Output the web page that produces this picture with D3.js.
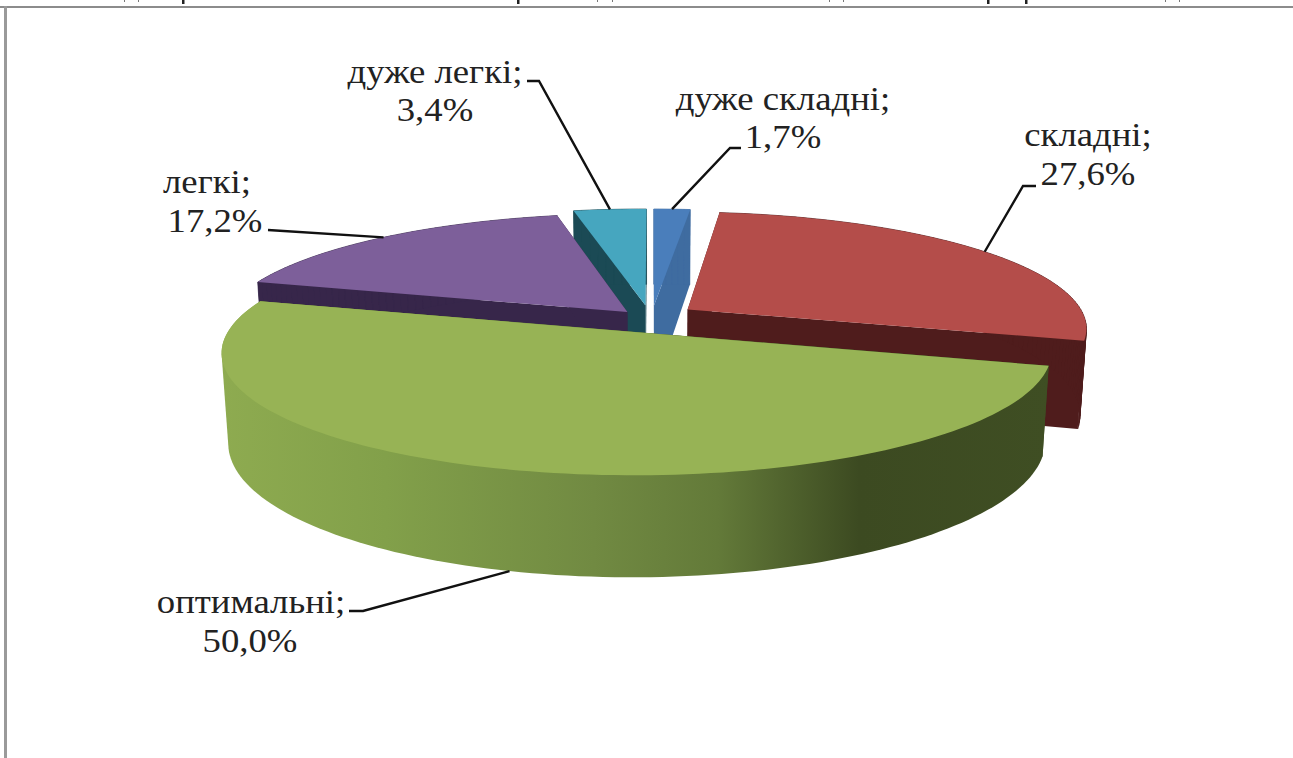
<!DOCTYPE html>
<html><head><meta charset="utf-8">
<script src="https://cdn.jsdelivr.net/npm/d3@7"></script>
<style>html,body{margin:0;padding:0;background:#fff;overflow:hidden}svg{display:block}
text{font-family:"Liberation Serif","Times New Roman",serif;font-size:34px;fill:#222}</style>
</head><body><svg id="c" width="1293" height="758"></svg>
<script>
const categories = ["дуже складні","складні","оптимальні","легкі","дуже легкі"];
const values = [1.7,27.6,50.0,17.2,3.4];
const valueLabels = ["1,7%","27,6%","50,0%","17,2%","3,4%"];
const topColors = ["#4a7ebb","#b44d4a","#97b355","#7d5f9a","#46a6bf"];
const wallColors = ["#3f6ca0","#4f1c1c","#3c4a21","#37264a","#1b4a55"];
const explodeU = [0.07,0.107,0.11,0.092,0.165];
const explodeV = [0.12,0.15,0.12,0.085,0.12];
const paintOrder = [4,0,1,3,2];
const labelLines = [
 {i:0,a1:[783,110],a2:[783,148],leader:[[730,148],[741,148]]},
 {i:1,a1:[1088,146],a2:[1088,185],leader:[[1023,186],[1036,186]]},
 {i:2,a1:[251,613],a2:[250,652],leader:[[363,611],[349,611]],bottom:true},
 {i:3,a1:[207,193],a2:[215,232],leader:[[268,230]]},
 {i:4,a1:[435,83],a2:[435,121],leader:[[539,81],[527,81]]}
];
const stems = [183,518,988,1026];
const feet = [124,138,597,612,829,843,1165,1179];

const svg = d3.select("#c");
const cam = {cx:652.5,cy:319,R:402,a:115.5,k:0.157,m:0.008,H:88,q:0.015,textStretch:1.08};
const pie = d3.pie().sort(null).value(d=>d);
const arcs = pie(values);

function project(u,v,bottom){
  const w = 1 + cam.k*v + cam.m*u + (bottom?cam.q:0);
  return [cam.cx + cam.R*u/w, cam.cy - (cam.a*v - (bottom?cam.H:0))/w];
}
function slicePoint(d,r,ang,bottom){
  const mid=(d.startAngle+d.endAngle)/2;
  const u=explodeU[d.index]*Math.sin(mid)+r*Math.sin(ang);
  const v=explodeV[d.index]*Math.cos(mid)+r*Math.cos(ang);
  return project(u,v,bottom);
}
const line=d3.line();
function arcPts(d,bottom){
  const n=Math.max(6,Math.ceil((d.endAngle-d.startAngle)*40));
  return d3.range(n+1).map(j=>slicePoint(d,1,d.startAngle+(d.endAngle-d.startAngle)*j/n,bottom));
}
const defs=svg.append("defs");
const grad=defs.append("linearGradient").attr("id","greenWall").attr("gradientUnits","userSpaceOnUse")
  .attr("x1",220).attr("x2",1050).attr("y1",0).attr("y2",0);
[[0,"#8eab50"],[0.2,"#82a04a"],[0.45,"#718a42"],[0.6,"#637a39"],[0.77,"#3c4a21"],[1,"#3f4e23"]]
  .forEach(s=>grad.append("stop").attr("offset",s[0]).attr("stop-color",s[1]));

// frame
svg.append("rect").attr("x",0).attr("y",6).attr("width",1293).attr("height",2).attr("fill","#8c8c8c");
svg.append("rect").attr("x",4).attr("y",6).attr("width",3).attr("height",752).attr("fill","#9a9a9a");
svg.selectAll("rect.stem").data(stems).join("rect").attr("class","stem").attr("x",d=>d-1).attr("y",0).attr("width",2.5).attr("height",4).attr("fill","#222");
svg.selectAll("rect.foot").data(feet).join("rect").attr("class","foot").attr("x",d=>d).attr("y",0).attr("width",1).attr("height",2).attr("fill","#777");

const g=svg.append("g");
paintOrder.forEach(i=>{
  const d=arcs[i];
  const sg=g.append("g");
  const apexT=slicePoint(d,0,0,false),apexB=slicePoint(d,0,0,true);
  const s0T=slicePoint(d,1,d.startAngle,false),s0B=slicePoint(d,1,d.startAngle,true);
  const s1T=slicePoint(d,1,d.endAngle,false),s1B=slicePoint(d,1,d.endAngle,true);
  sg.append("path").attr("d",line([apexT,s0T,s0B,apexB])+"Z").attr("fill",wallColors[i]);
  sg.append("path").attr("d",line([apexT,s1T,s1B,apexB])+"Z").attr("fill",wallColors[i]);
  const top=arcPts(d,false),bot=arcPts(d,true);
  if(i===2){
    sg.append("path").attr("d",line(d3.polygonHull(top.concat(bot)))+"Z").attr("fill","url(#greenWall)");
  } else {
    sg.selectAll("path.wall").data(d3.range(top.length-1)).join("path").attr("class","wall")
      .attr("d",j=>line([top[j],top[j+1],bot[j+1],bot[j]])+"Z")
      .attr("fill",wallColors[i]).attr("stroke",wallColors[i]).attr("stroke-width",0.7);
  }
  sg.append("path").attr("d",line([apexT].concat(top))+"Z").attr("fill",topColors[i]);
});

// leaders and labels
const lg=svg.append("g");
const stretched=(sel,p)=>sel.attr("transform",`translate(${p[0]},${p[1]}) scale(${cam.textStretch},1)`).attr("text-anchor","middle");
labelLines.forEach(l=>{
  const d=arcs[l.i],mid=(d.startAngle+d.endAngle)/2;
  const anchor=slicePoint(d,1,mid,!!l.bottom);
  lg.append("path").attr("d",line([anchor].concat(l.leader))).attr("fill","none").attr("stroke","#111").attr("stroke-width",2.4);
  stretched(lg.append("text"),l.a1).text(categories[l.i]+";");
  stretched(lg.append("text"),l.a2).text(valueLabels[l.i]);
});
</script></body></html>
